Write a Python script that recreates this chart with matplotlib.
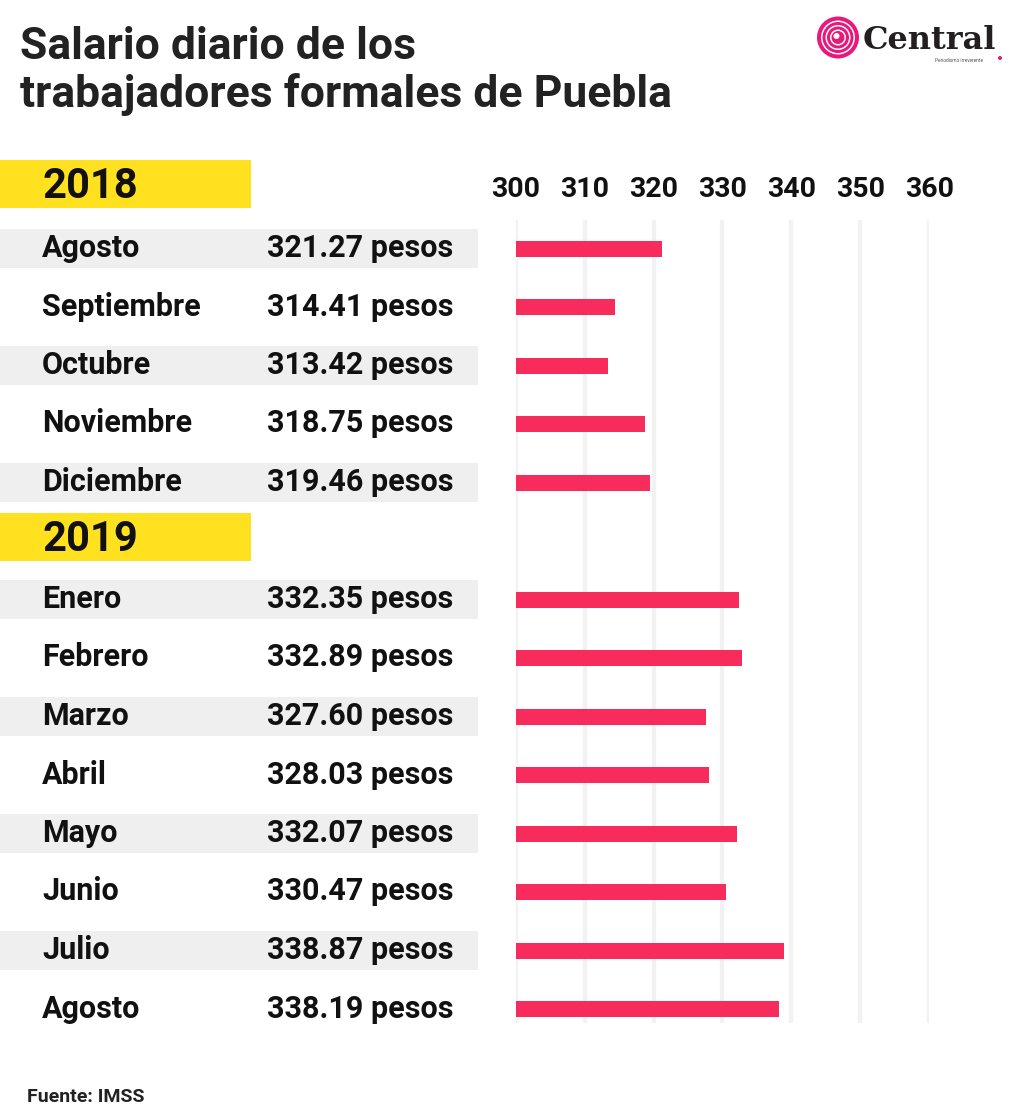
import matplotlib
matplotlib.use("Agg")
import matplotlib.pyplot as plt
from matplotlib.patches import Rectangle, Circle


# ── Data ───────────────────────────────────────────────────────────────────────

MESES_2018   = ["Agosto", "Septiembre", "Octubre", "Noviembre", "Diciembre"]
SALARIO_2018 = [321.27, 314.41, 313.42, 318.75, 319.46]
MESES_2019   = ["Enero", "Febrero", "Marzo", "Abril", "Mayo", "Junio", "Julio", "Agosto"]
SALARIO_2019 = [332.35, 332.89, 327.60, 328.03, 332.07, 330.47, 338.87, 338.19]
X_TICKS      = [300, 310, 320, 330, 340, 350, 360]

TITULO = "Salario diario de los\ntrabajadores formales de Puebla"
FUENTE = "Fuente: IMSS"

# ── Style ──────────────────────────────────────────────────────────────────────

W, H, DPI = 1026, 1113, 100
FONT      = "Roboto"
BAR_COL   = "#F72C5C"
YELLOW    = "#FFE120"
BAND_COL  = "#EFEFEF"
GRID_COL  = "#F2F2F2"
TEXT_COL  = "#111111"
LOGO_PINK = "#E8197C"

ROW0, ROW_H = 248.5, 58.5     # pixel centre of first row, row pitch
GRID_TOP, GRID_BOT = 220, 1023
X0_PX, X1_PX = 515.7, 929.3   # pixel x of 300 and 360

plt.rcParams["font.family"] = [FONT, "DejaVu Sans"]


def row_px(slot):
    return ROW0 + ROW_H * slot


# slots: 2018 rows 0..4, year header 2019 at 5, 2019 rows 6..13
slots  = list(range(len(MESES_2018))) + [len(MESES_2018) + 1 + i for i in range(len(MESES_2019))]
meses  = MESES_2018 + MESES_2019
values = SALARIO_2018 + SALARIO_2019

fig = plt.figure(figsize=(W / DPI, H / DPI), dpi=DPI)
fig.patch.set_facecolor("white")

# background / text layer in pixel coordinates
bg = fig.add_axes([0, 0, 1, 1])
bg.set_xlim(0, W)
bg.set_ylim(H, 0)
bg.axis("off")

line1, line2 = TITULO.split("\n")
bg.text(20, 59, line1, fontsize=32, weight="bold", color="#222222", va="baseline")
bg.text(20, 107, line2, fontsize=32, weight="bold", color="#222222", va="baseline")

# year headers
for year, top, bot in [("2018", 160, 207.5), ("2019", 513, 561)]:
    bg.add_patch(Rectangle((0, top), 251, bot - top, color=YELLOW, lw=0))
    bg.text(42, bot - 10, year, fontsize=30, weight="bold", color=TEXT_COL, va="baseline")

# alternating grey bands + labels
for slot, mes, v in zip(slots, meses, values):
    yc = row_px(slot)
    if slot % 2 == 0:
        bg.add_patch(Rectangle((0, yc - 19.5), 478, 39, color=BAND_COL, lw=0))
    bg.text(42, yc + 8.5, mes, fontsize=22, weight="bold", color=TEXT_COL, va="baseline")
    bg.text(267, yc + 8.5, f"{v:.2f} pesos", fontsize=22, weight="bold", color=TEXT_COL, va="baseline")

bg.text(27, 1102, FUENTE, fontsize=14, weight="bold", color="#222222", va="baseline")

# logo
cx, cy = 838, 37.5
for r, c in [(21, LOGO_PINK), (17, "white"), (15.5, LOGO_PINK), (12.5, "white"),
             (11, LOGO_PINK), (8, "white"), (6.5, LOGO_PINK)]:
    bg.add_patch(Circle((cx, cy), r, color=c, lw=0))
bg.add_patch(Circle((cx - 1.5, cy - 1.5), 3, color="white", lw=0))
bg.text(863, 49, "Central", fontsize=23, weight="bold", color="#231F20",
        family="DejaVu Serif", va="baseline")
bg.text(935, 62, "Periodismo irreverente", fontsize=3.4, color="#555555", va="baseline")
bg.add_patch(Circle((1000, 58), 2, color=LOGO_PINK, lw=0))

# bar axes
left   = X0_PX / W
width  = (X1_PX - X0_PX) / W
bottom = 1 - GRID_BOT / H
height = (GRID_BOT - GRID_TOP) / H
ax = fig.add_axes([left, bottom, width, height])
ax.patch.set_alpha(0)
ax.barh(slots, [v - X_TICKS[0] for v in values], left=X_TICKS[0], height=16 / ROW_H,
        color=BAR_COL, zorder=3)
ax.set_xlim(X_TICKS[0], X_TICKS[-1])
ax.set_ylim((GRID_BOT - ROW0) / ROW_H, (GRID_TOP - ROW0) / ROW_H)
ax.set_xticks(X_TICKS)
ax.set_yticks([])
ax.xaxis.tick_top()
ax.tick_params(axis="x", length=0, pad=12, labelsize=20.5, labelcolor=TEXT_COL)
for lab in ax.get_xticklabels():
    lab.set_fontweight("bold")
ax.grid(True, axis="x", color=GRID_COL, lw=3.2, zorder=0)
ax.set_axisbelow(True)
for s in ax.spines.values():
    s.set_visible(False)

fig.savefig("out.png", dpi=DPI, facecolor="white")
